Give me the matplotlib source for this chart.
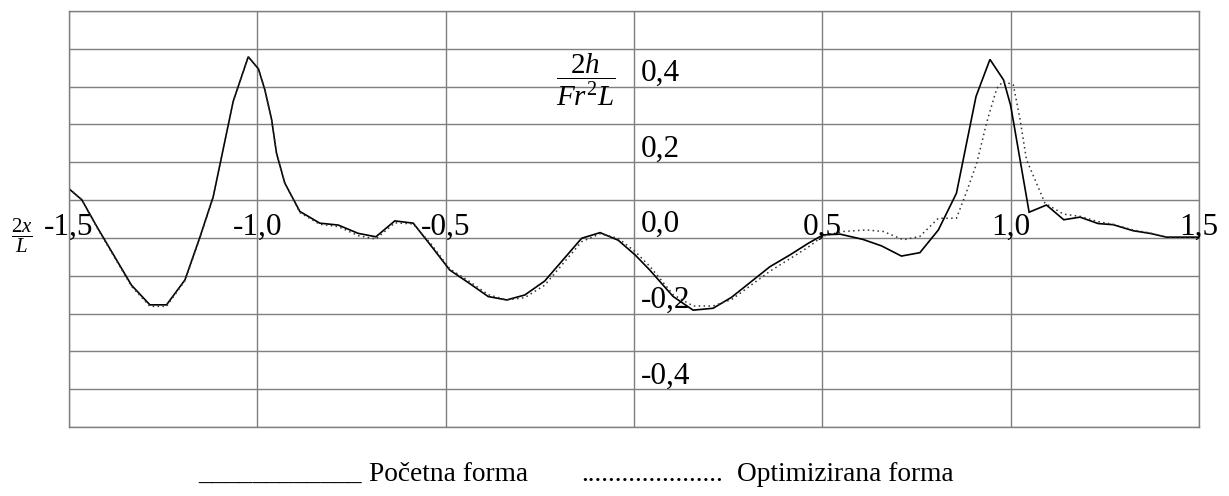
import matplotlib
matplotlib.use("Agg")
import matplotlib.pyplot as plt
import numpy as np

plt.rcParams['font.family'] = ['Liberation Serif', 'DejaVu Serif']
plt.rcParams['mathtext.fontset'] = 'custom'
plt.rcParams['mathtext.rm'] = 'Liberation Serif'
plt.rcParams['mathtext.it'] = 'Liberation Serif:italic'

# ---- data ----
x_pocetna = [-1.500, -1.466, -1.426, -1.334, -1.285, -1.241, -1.192, -1.152, -1.117,
             -1.064, -1.024, -0.997, -0.980, -0.962, -0.949, -0.927, -0.887, -0.834,
             -0.785, -0.732, -0.685, -0.635, -0.586, -0.537, -0.489, -0.440, -0.387,
             -0.338, -0.290, -0.237, -0.139, -0.090, -0.042, 0.003, 0.042, 0.104,
             0.157, 0.210, 0.259, 0.361, 0.414, 0.463, 0.502, 0.547, 0.608, 0.657,
             0.710, 0.759, 0.808, 0.856, 0.908, 0.945, 0.981, 1.000, 1.049, 1.095,
             1.141, 1.184, 1.232, 1.272, 1.325, 1.370, 1.414, 1.498]
y_pocetna = [0.130, 0.101, 0.030, -0.125, -0.177, -0.177, -0.111, 0.003, 0.109,
             0.361, 0.479, 0.447, 0.392, 0.313, 0.224, 0.145, 0.070, 0.039,
             0.034, 0.012, 0.003, 0.045, 0.039, -0.023, -0.085, -0.118, -0.155,
             -0.164, -0.151, -0.114, -0.001, 0.014, -0.006, -0.045, -0.085, -0.155,
             -0.191, -0.186, -0.157, -0.076, -0.045, -0.014, 0.008, 0.010, -0.004, -0.021,
             -0.048, -0.039, 0.021, 0.118, 0.374, 0.472, 0.418, 0.350, 0.068, 0.087,
             0.048, 0.055, 0.038, 0.035, 0.019, 0.012, 0.002, 0.002]

x_optim = [-1.500, -1.466, -1.426, -1.334, -1.285, -1.241, -1.192, -1.152, -1.117,
           -1.064, -1.024, -0.997, -0.980, -0.962, -0.949, -0.927, -0.887, -0.834,
           -0.785, -0.732, -0.685, -0.635, -0.586, -0.537, -0.489, -0.440, -0.387,
           -0.338, -0.290, -0.237, -0.139, -0.090, -0.042, 0.003, 0.042, 0.104,
           0.157, 0.210, 0.259, 0.361, 0.414, 0.463, 0.502, 0.555, 0.617, 0.662,
           0.715, 0.759, 0.808, 0.856, 0.883, 0.910, 0.936, 0.963, 0.980, 1.007,
           1.025, 1.042, 1.091, 1.140, 1.184, 1.232, 1.272, 1.325, 1.370, 1.414, 1.498]
y_optim = [0.130, 0.101, 0.028, -0.128, -0.181, -0.181, -0.113, 0.001, 0.107,
           0.361, 0.479, 0.447, 0.392, 0.313, 0.224, 0.145, 0.067, 0.036,
           0.030, 0.006, -0.003, 0.040, 0.037, -0.018, -0.082, -0.113, -0.150,
           -0.164, -0.158, -0.125, -0.010, 0.011, -0.001, -0.036, -0.075, -0.150,
           -0.180, -0.180, -0.163, -0.088, -0.055, -0.024, 0.005, 0.017, 0.021, 0.017,
           -0.005, 0.004, 0.052, 0.052, 0.122, 0.198, 0.304, 0.395, 0.414, 0.405,
           0.313, 0.207, 0.092, 0.063, 0.057, 0.043, 0.036, 0.021, 0.013, 0.002, 0.002]

x_ticks = [-1.5, -1.0, -0.5, 0.5, 1.0, 1.5]
x_tick_labels = ['-1,5', '-1,0', '-0,5', '0,5', '1,0', '1,5']
y_ticks = [0.4, 0.2, 0.0, -0.2, -0.4]
y_tick_labels = ['0,4', '0,2', '0,0', '-0,2', '-0,4']
legend_labels = ['Početna forma', 'Optimizirana forma']

# ---- figure ----
fig = plt.figure(figsize=(12.29, 4.96), dpi=100)
ax = fig.add_axes([0.0561, 0.1391, 0.9195, 0.8387])
ax.set_xlim(-1.5, 1.5)
ax.set_ylim(-0.5, 0.6)
ax.set_xticks(np.arange(-1.5, 1.51, 0.5))
ax.set_yticks(np.arange(-0.5, 0.61, 0.1))
ax.tick_params(length=0, labelbottom=False, labelleft=False)
ax.grid(True, color='#7f7f7f', linewidth=1.0)
ax.set_axisbelow(True)
for s in ax.spines.values():
    s.set_color('#7f7f7f')
    s.set_linewidth(1.0)

ax.plot(x_pocetna, y_pocetna, color='black', linewidth=1.2, solid_joinstyle='miter')
ax.plot(x_optim, y_optim, color='#333333', linewidth=1.1, linestyle=(0, (1, 2.2)))

tick_fs = 22.5
for xv, lab in zip(x_ticks, x_tick_labels):
    ax.text(xv, 0.008, lab, ha='center', va='baseline', fontsize=tick_fs, clip_on=False)
for yv, lab in zip(y_ticks, y_tick_labels):
    ax.text(0.018, yv + 0.015, lab, ha='left', va='baseline', fontsize=tick_fs)

ax.text(-0.128, 0.418, r'$\dfrac{2h}{Fr^{2}L}$', ha='center', va='center', fontsize=21)
ax.text(-1.625, 0.005, r'$\dfrac{2x}{L}$', ha='center', va='center', fontsize=15, clip_on=False)

leg_fs = 19.7
fig.text(0.161, 0.030, '____________', fontsize=leg_fs, va='baseline', ha='left')
fig.text(0.300, 0.030, legend_labels[0], fontsize=leg_fs, va='baseline', ha='left')
fig.text(0.473, 0.030, '.....................', fontsize=leg_fs, va='baseline', ha='left')
fig.text(0.600, 0.030, legend_labels[1], fontsize=leg_fs, va='baseline', ha='left')

fig.savefig('out.png', dpi=100)
